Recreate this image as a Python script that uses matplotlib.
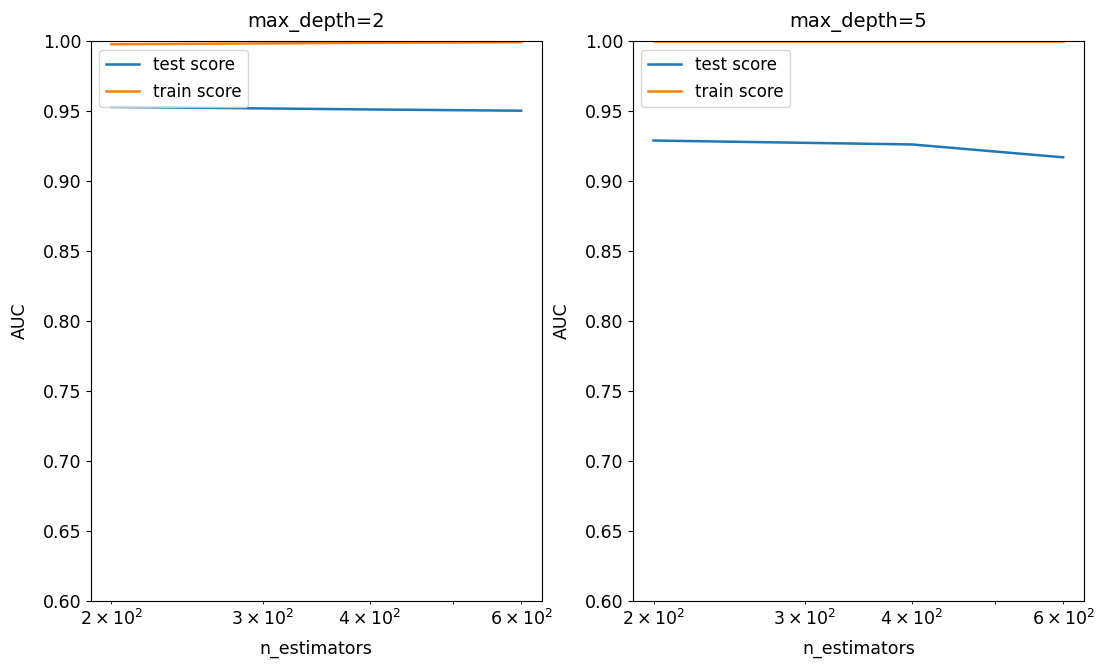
import matplotlib
matplotlib.use("Agg")
import matplotlib.pyplot as plt

n_estimators = [200, 400, 600]
test_d2 = [0.9530, 0.9512, 0.9503]
train_d2 = [0.9978, 0.9988, 0.9993]
test_d5 = [0.9290, 0.9262, 0.9170]
train_d5 = [1.0, 1.0, 1.0]
titles = ["max_depth=2", "max_depth=5"]
yticks = [0.60, 0.65, 0.70, 0.75, 0.80, 0.85, 0.90, 0.95, 1.00]

fig = plt.figure(figsize=(10.99, 6.64), dpi=100)
ax1 = fig.add_axes([0.0828, 0.095, 0.410, 0.843])
ax2 = fig.add_axes([0.576, 0.095, 0.410, 0.843])

for ax, test, train, title in [(ax1, test_d2, train_d2, titles[0]),
                               (ax2, test_d5, train_d5, titles[1])]:
    ax.plot(n_estimators, test, color="#1f77b4", lw=1.8, label="test score")
    ax.plot(n_estimators, train, color="#ff7f0e", lw=1.8, label="train score")
    ax.set_xscale("log")
    ax.set_ylim(0.6, 1.0)
    ax.set_yticks(yticks)
    ax.set_yticklabels([f"{v:.2f}" for v in yticks])
    ax.set_xlabel("n_estimators", fontsize=12.5, labelpad=8)
    ax.set_ylabel("AUC", fontsize=12.5, labelpad=10)
    ax.set_title(title, fontsize=14, pad=10)
    ax.tick_params(which="both", labelsize=12.5)
    ax.legend(loc="upper left", fontsize=12)

fig.savefig("out.png", dpi=100)
